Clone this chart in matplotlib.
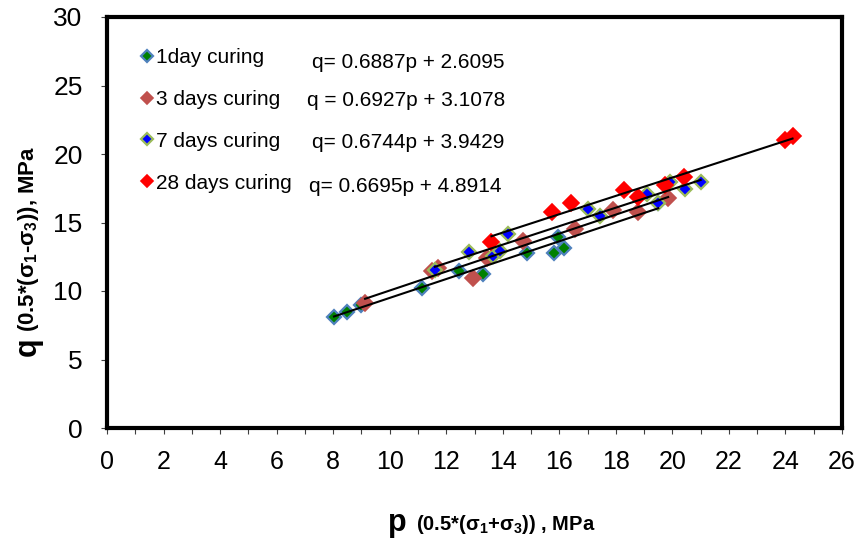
import matplotlib
matplotlib.use("Agg")
import matplotlib.pyplot as plt
from matplotlib import font_manager
from matplotlib.ticker import MultipleLocator
import numpy as np

# ------------------------------------------------------------------
# Data
# ------------------------------------------------------------------
p_1day = [8.03, 8.5, 9.0, 11.15, 12.45, 13.3, 14.85, 15.8, 16.15, 15.95, 19.5]
q_1day = [8.1, 8.45, 8.95, 10.2, 11.45, 11.25, 12.8, 12.8, 13.15, 13.95, 16.4]

p_3day = [9.13, 11.5, 11.7, 12.95, 13.45, 14.7, 16.55, 17.9, 18.8, 19.85]
q_3day = [9.1, 11.45, 11.7, 10.95, 12.4, 13.65, 14.55, 15.9, 15.75, 16.8]

p_7day = [11.6, 12.8, 13.65, 13.9, 14.2, 17.0, 17.45, 19.1, 19.5, 19.9, 20.45, 21.0]
q_7day = [11.55, 12.85, 12.55, 12.95, 14.15, 16.0, 15.45, 17.1, 16.45, 17.95, 17.45, 17.95]

p_28day = [13.6, 15.75, 16.4, 18.3, 18.8, 19.75, 20.4, 24.0, 24.25]
q_28day = [13.6, 15.75, 16.4, 17.4, 16.85, 17.75, 18.3, 21.0, 21.3]

labels = ["1day curing", "3 days curing", "7 days curing", "28 days curing"]
slopes = [0.6887, 0.6927, 0.6744, 0.6695]
intercepts = [2.6095, 3.1078, 3.9429, 4.8914]
eq_texts = ["q= 0.6887p + 2.6095", "q = 0.6927p + 3.1078",
            "q= 0.6744p + 3.9429", "q= 0.6695p + 4.8914"]

x_ticks = list(range(0, 27, 2))
y_ticks = list(range(0, 31, 5))

# ------------------------------------------------------------------
# Fonts
# ------------------------------------------------------------------
def have_font(name):
    try:
        font_manager.findfont(name, fallback_to_default=False)
        return True
    except Exception:
        return False

BASE = "Liberation Sans" if have_font("Liberation Sans") else "DejaVu Sans"

plt.rcParams["font.family"] = [BASE, "DejaVu Sans"]
plt.rcParams["mathtext.fontset"] = "custom"
plt.rcParams["mathtext.rm"] = BASE + ":bold"
plt.rcParams["mathtext.it"] = BASE + ":bold"
plt.rcParams["mathtext.bf"] = BASE + ":bold"

# ------------------------------------------------------------------
# Figure
# ------------------------------------------------------------------
fig = plt.figure(figsize=(8.58, 5.43), dpi=100)
ax = fig.add_axes([107 / 858, 1 - 428 / 543, 735 / 858, 411 / 543])

styles = [
    dict(mfc="#008000", mec="#4F81BD", mew=1.6, ms=7.4),
    dict(mfc="#C0504D", mec="#C0504D", mew=1.2, ms=8.0),
    dict(mfc="#0000FF", mec="#9BBB59", mew=1.6, ms=7.4),
    dict(mfc="#FF0000", mec="#FF0000", mew=1.2, ms=8.0),
]
series = [(p_1day, q_1day), (p_3day, q_3day), (p_7day, q_7day), (p_28day, q_28day)]

for (px, qy), st, lab in zip(series, styles, labels):
    ax.plot(px, qy, linestyle="none", marker="D", label=lab, zorder=3, **st)

# linear trend lines from the printed equations
for (px, qy), m, b in zip(series, slopes, intercepts):
    xs = np.array([min(px), max(px)])
    ax.plot(xs, m * xs + b, color="black", linewidth=1.5, zorder=4)

ax.set_xlim(0, 26)
ax.set_ylim(0, 30)
ax.set_xticks(x_ticks)
ax.set_yticks(y_ticks)
ax.xaxis.set_minor_locator(MultipleLocator(1))

for s in ax.spines.values():
    s.set_linewidth(3)
    s.set_color("black")

ax.tick_params(axis="both", which="both", direction="out", length=4.5,
               width=0.8, color="#404040")
ax.tick_params(axis="y", labelsize=19, pad=13)
ax.tick_params(axis="x", labelsize=18, pad=11)

# legend
leg = ax.legend(loc="upper left", bbox_to_anchor=(0.035, 0.945), frameon=False,
                fontsize=15, handlelength=0.6, handletextpad=0.1,
                labelspacing=1.1, borderaxespad=0, markerscale=0.8)

# equations
eq_x = [312, 307, 312, 309]
eq_y = [63, 101, 143, 187]
for t, ex, ey in zip(eq_texts, eq_x, eq_y):
    fig.text(ex / 858, 1 - ey / 543, t, fontsize=15, ha="left", va="center")

# axis titles
fig.text(397 / 858, 1 - 523 / 543, "p", fontsize=22, fontweight="bold",
         ha="center", va="center")
fig.text(416 / 858, 1 - 524 / 543, r"(0.5*(σ$_1$+σ$_3$)) , MPa", fontsize=14.5,
         fontweight="bold", ha="left", va="center")

fig.text(28 / 858, 1 - 347 / 543, "q", fontsize=22, fontweight="bold",
         rotation=90, ha="center", va="center")
fig.text(29 / 858, 1 - 332 / 543, r"(0.5*(σ$_1$-σ$_3$)), MPa", fontsize=16,
         fontweight="bold", rotation=90, ha="center", va="bottom")

fig.savefig("out.png", dpi=100)
